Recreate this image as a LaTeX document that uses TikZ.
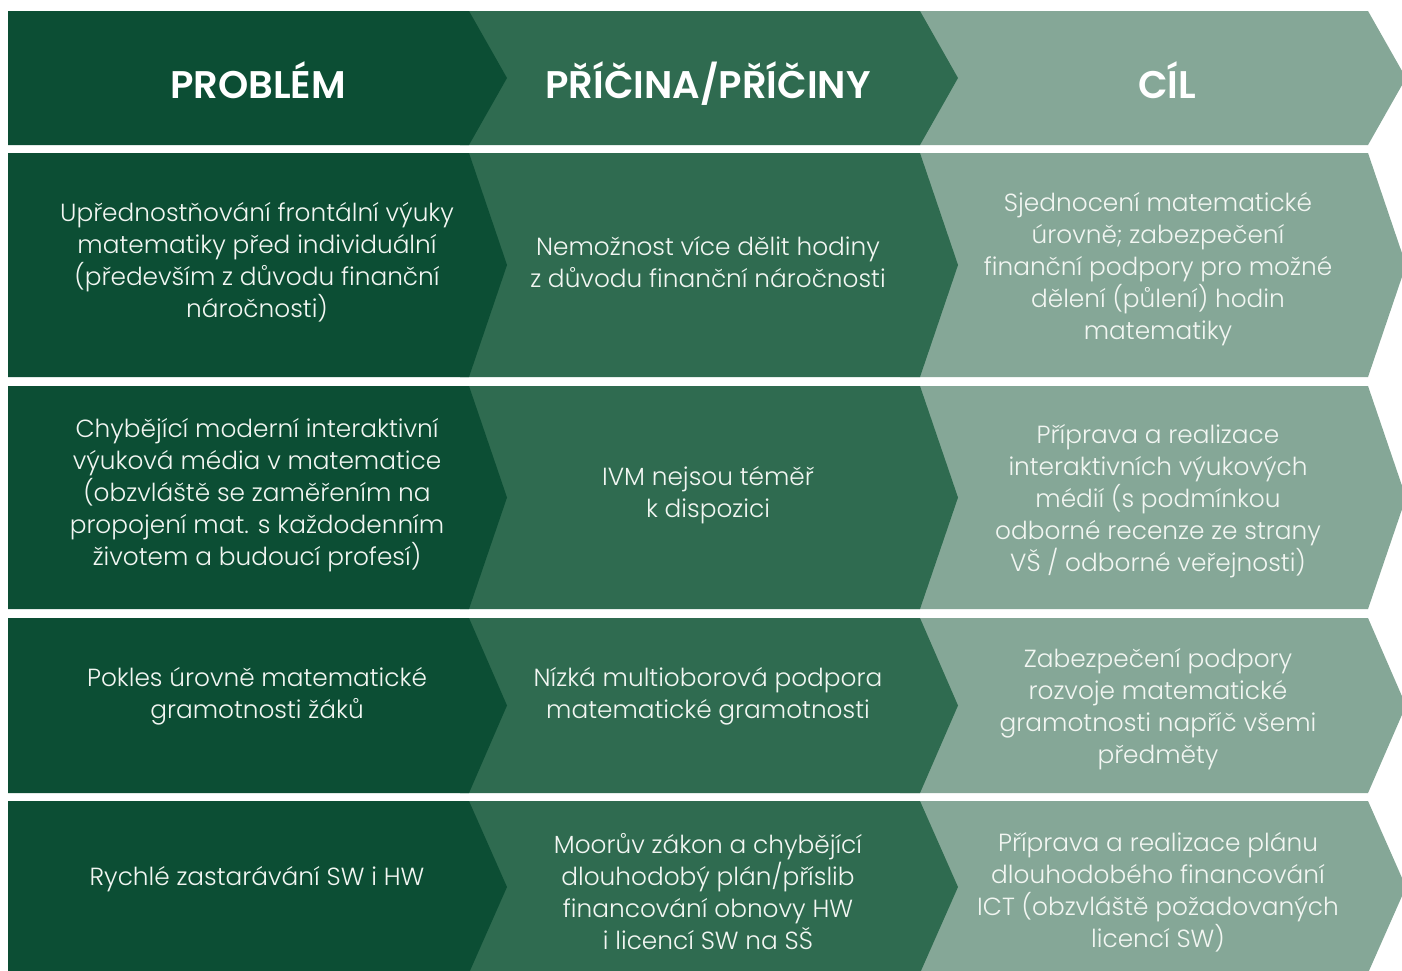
\documentclass[tikz,border=0pt]{standalone}
\usepackage{fontspec}
\setmainfont{Poppins}[UprightFont=* Light, BoldFont=* SemiBold]
\definecolor{cone}{HTML}{0C4E34}
\definecolor{ctwo}{HTML}{2F6B50}
\definecolor{cthree}{HTML}{85A797}
\definecolor{txt}{HTML}{F2F6F2}
\tikzset{
  cell/.style={align=center, text=txt, font=\fontsize{24.8}{32}\selectfont, inner sep=0pt},
  head/.style={align=center, text=white, anchor=base, font=\fontsize{38.5}{44}\selectfont\bfseries, inner sep=0pt}
}
\newcommand{\myrow}[3]{%
  \fill[cthree] (900,#1) -- (1368,#1) -- (1406,#3) -- (1368,#2) -- (900,#2) -- cycle;
  \fill[ctwo] (460,#1) -- (920,#1) -- (958,#3) -- (920,#2) -- (460,#2) -- cycle;
  \fill[cone] (8,#1) -- (469,#1) -- (507,#3) -- (469,#2) -- (8,#2) -- cycle;
}
\begin{document}
\begin{tikzpicture}[x=1pt,y=-1pt]
\useasboundingbox (0,0) rectangle (1402,970);
\fill[white] (0,0) rectangle (1402,970);
\clip (0,0) rectangle (1402,970);
\myrow{11}{145}{78}
\myrow{153}{377}{265}
\myrow{386}{609}{497.5}
\myrow{618}{793}{705.5}
\myrow{801}{973}{887}

\node[head] (h1) at (258,98) {PROBLÉM};
\node[head] (h2) at (708,98) {PŘÍČINA/PŘÍČINY};
\node[head] (h3) at (1167,98) {CÍL};

\node[cell] (a1) at (257,262) {Upřednostňování frontální výuky\\matematiky před individuální\\(především z důvodu finanční\\náročnosti)};
\node[cell] (b1) at (708,262) {Nemožnost více dělit hodiny\\z důvodu finanční náročnosti};
\node[cell] (c1) at (1158,269) {Sjednocení matematické\\úrovně; zabezpečení\\finanční podpory pro možné\\dělení (půlení) hodin\\matematiky};

\node[cell] (a2) at (257,495) {Chybějící moderní interaktivní\\výuková média v matematice\\(obzvláště se zaměřením na\\propojení mat. s každodenním\\životem a budoucí profesí)};
\node[cell] (b2) at (708,495) {IVM nejsou téměř\\k dispozici};
\node[cell] (c2) at (1158,501) {Příprava a realizace\\interaktivních výukových\\médií (s podmínkou\\odborné recenze ze strany\\VŠ / odborné veřejnosti)};

\node[cell] (a3) at (257,696) {Pokles úrovně matematické\\gramotnosti žáků};
\node[cell] (b3) at (708,696) {Nízká multioborová podpora\\matematické gramotnosti};
\node[cell] (c3) at (1158,709) {Zabezpečení podpory\\rozvoje matematické\\gramotnosti napříč všemi\\předměty};

\node[cell] (a4) at (257,879) {Rychlé zastarávání SW i HW};
\node[cell] (b4) at (708,892) {Moorův zákon a chybějící\\dlouhodobý plán/příslib\\financování obnovy HW\\i licencí SW na SŠ};
\node[cell] (c4) at (1158,892) {Příprava a realizace plánu\\dlouhodobého financování\\ICT (obzvláště požadovaných\\licencí SW)};
\end{tikzpicture}
\end{document}
